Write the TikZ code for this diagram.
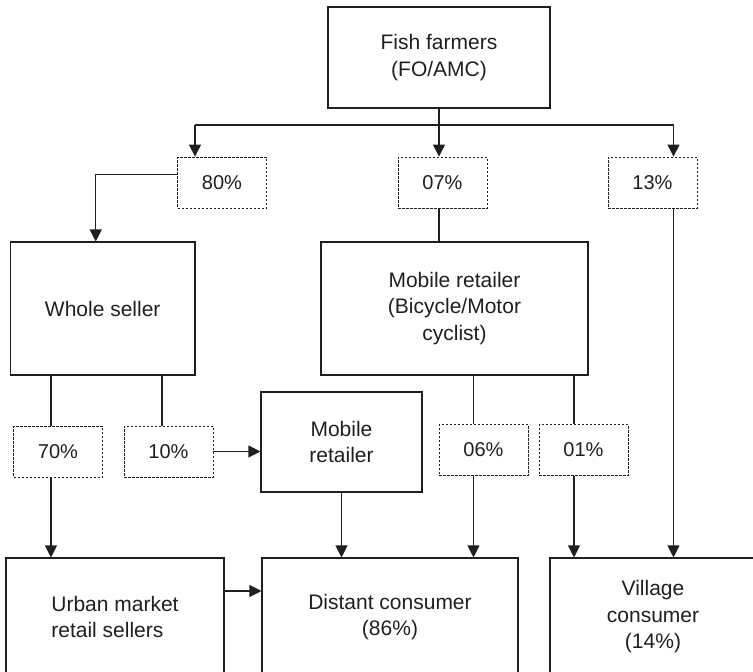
\documentclass[tikz,border=0pt]{standalone}
\usepackage{fontspec}
\setmainfont{Liberation Sans}
\usetikzlibrary{arrows.meta}
\begin{document}
\begin{tikzpicture}[x=1pt,y=-1pt,
  line width=1.1pt, color=black!88,
  solidbox/.style={draw, rectangle, inner sep=0pt, align=center, font=\fontsize{21}{26.5}\selectfont},
  pctbox/.style={draw, rectangle, inner sep=0pt, dash pattern=on 2.5pt off 1.5pt, line width=0.8pt, minimum width=89pt, minimum height=51pt, font=\fontsize{20}{24}\selectfont},
  arr/.style={-{Triangle[length=12pt,width=12pt]}}]
\useasboundingbox (0,0) rectangle (753,672);
\clip (0,0) rectangle (753,672);
% top
\node[solidbox, minimum width=222pt, minimum height=101pt] (fish) at (439,57.5) {Fish farmers\\(FO/AMC)};
\node[pctbox] (p80) at (222,182.5) {80\%};
\node[pctbox] (p07) at (442.5,182.5) {07\%};
\node[pctbox] (p13) at (652.5,182.5) {13\%};
% middle
\node[solidbox, minimum width=184.5pt, minimum height=133pt] (whole) at (102.75,308.5) {Whole seller};
\node[solidbox, minimum width=267pt, minimum height=133pt] (mobbig) at (454.5,308.5) {Mobile retailer\\(Bicycle/Motor\\cyclist)};
\node[pctbox] (p70) at (58,451.5) {70\%};
\node[pctbox] (p10) at (168.5,451.5) {10\%};
\node[solidbox, minimum width=161pt, minimum height=100pt] (mobsmall) at (341.5,442) {Mobile\\retailer};
\node[pctbox] (p06) at (483.5,450) {06\%};
\node[pctbox] (p01) at (583.5,450) {01\%};
% bottom
\node[solidbox, minimum width=218pt, minimum height=118pt, align=left] (urban) at (115,617) {Urban market\\retail sellers};
\node[solidbox, minimum width=256pt, minimum height=118pt] (distant) at (390,617) {Distant consumer\\(86\%)};
\node[solidbox, minimum width=206pt, minimum height=118pt] (village) at (653,617) {Village\\consumer\\(14\%)};
% helper coordinates
\coordinate (cx) at (439,125);
\coordinate (hl) at (195,125);
\coordinate (hr) at (673.5,125);
\coordinate (a70) at (51,0);
\coordinate (a10) at (162,0);
\coordinate (a06) at (473.5,0);
\coordinate (a01) at (574,0);
% connectors
\draw (hl) -- (hr);
\draw[arr] (fish.south) -- (fish.south |- p07.north);
\draw[arr] (hl) -- (hl |- p80.north);
\draw[arr] (hr) -- (hr |- p13.north);
\draw[arr] ([yshift=8pt]p80.west) -| ([xshift=-7pt]whole.north);
\draw (cx |- p07.south) -- (cx |- mobbig.north);
\draw[arr] (hr |- p13.south) -- (hr |- village.north);
\draw (a70 |- whole.south) -- (a70 |- p70.north);
\draw (a10 |- whole.south) -- (a10 |- p10.north);
\draw[arr] (a70 |- p70.south) -- (a70 |- urban.north);
\draw[arr] (p10.east) -- (p10.east -| mobsmall.west);
\draw[arr] (mobsmall.south) -- (mobsmall.south |- distant.north);
\draw (a06 |- mobbig.south) -- (a06 |- p06.north);
\draw[arr] (a06 |- p06.south) -- (a06 |- distant.north);
\draw (a01 |- mobbig.south) -- (a01 |- p01.north);
\draw[arr] (a01 |- p01.south) -- (a01 |- village.north);
\draw[arr] ([yshift=26pt]urban.east) -- ([yshift=26pt]urban.east -| distant.west);
\end{tikzpicture}
\end{document}
